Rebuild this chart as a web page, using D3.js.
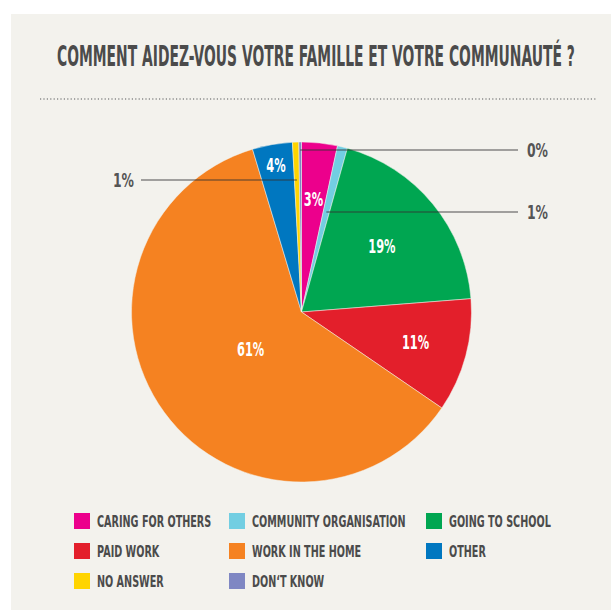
<!DOCTYPE html>
<html>
<head>
<meta charset="utf-8">
<script src="https://cdn.jsdelivr.net/npm/d3@7"></script>
<style>
  body { margin: 0; background: #fff; }
  svg { display: block; }
</style>
</head>
<body>
<script>
// data (percent of answers)
const title = "COMMENT AIDEZ-VOUS VOTRE FAMILLE ET VOTRE COMMUNAUTÉ ?";
const categories = ["CARING FOR OTHERS", "COMMUNITY ORGANISATION", "GOING TO SCHOOL",
                    "PAID WORK", "WORK IN THE HOME", "OTHER", "NO ANSWER", "DON\u2018T KNOW"];
const values = [3.4, 0.95, 19.4, 10.8, 60.8, 3.8, 0.6, 0.25];
const colors = ["#ec008c", "#72cee2", "#00a651", "#e31f2b", "#f58221", "#0077c0", "#ffd400", "#7f87c3"];

// how each slice gets its label: radius for an inside label, or a leader line at a given y
const labelLayout = [
    { inside: 113 },
    { y: -100, side: "right" },
    { inside: 104 },
    { inside: 118 },
    { inside: 63 },
    { inside: 149 },
    { y: -132, side: "left" },
    { y: -162, side: "right" }
];

const W = 611, H = 610;
const cx = 301.5, cy = 312, R = 170;
const font = "'DejaVu Sans', 'Liberation Sans', sans-serif";
const textCol = "#4b4b4b";

const svg = d3.select("body").append("svg").attr("width", W).attr("height", H);

// place a text at (x, y) and squeeze it horizontally by k (condensed look)
function place(sel, fx, fy, k) {
    return sel.attr("x", 0).attr("y", 0)
        .attr("transform", (d, i) => `translate(${fx(d, i)},${fy(d, i)}) scale(${k},1)`);
}

svg.append("rect").attr("x", 11).attr("y", 14).attr("width", W - 11).attr("height", H - 14)
    .attr("fill", "#f3f2ed");

const t = svg.append("text")
    .attr("font-family", font).attr("font-weight", "bold").attr("font-size", 28)
    .attr("fill", textCol)
    .text(title);
const tk = 518 / t.node().getComputedTextLength();
t.attr("transform", `translate(57,66) scale(${tk},1)`);

svg.append("line").attr("x1", 40).attr("x2", 597).attr("y1", 99).attr("y2", 99)
    .attr("stroke", "#8a8a8a").attr("stroke-width", 1.3).attr("stroke-dasharray", "1.2,2.2");

// pie
const pie = d3.pie().sort(null).value(d => d)(values);
const arc = d3.arc().innerRadius(0).outerRadius(R);
const g = svg.append("g").attr("transform", `translate(${cx},${cy})`);

g.selectAll("path.slice").data(pie).join("path")
    .attr("class", "slice")
    .attr("d", arc)
    .attr("fill", (d, i) => colors[i])
    .attr("stroke", "#f3f2ed").attr("stroke-width", 0.5);

const mid = d => (d.startAngle + d.endAngle) / 2;
const pct = v => Math.round(v) + "%";

// inside labels
const inside = pie.filter((d, i) => labelLayout[i].inside);
place(g.selectAll("text.in").data(inside).join("text")
    .attr("class", "in")
    .attr("dy", "0.36em")
    .attr("text-anchor", "middle")
    .attr("font-family", font).attr("font-weight", "bold").attr("font-size", 19)
    .attr("fill", "#fff")
    .text(d => pct(d.data)),
    d => Math.sin(mid(d)) * labelLayout[d.index].inside,
    d => -Math.cos(mid(d)) * labelLayout[d.index].inside, 0.6);

// leader lines for the thin slices
const outside = pie.filter((d, i) => labelLayout[i].y !== undefined);
const startX = d => Math.tan(mid(d)) * -labelLayout[d.index].y;
const endX = d => labelLayout[d.index].side === "right" ? 518 - cx : 141 - cx;

g.selectAll("line.lead").data(outside).join("line")
    .attr("class", "lead")
    .attr("x1", startX).attr("x2", endX)
    .attr("y1", d => labelLayout[d.index].y).attr("y2", d => labelLayout[d.index].y)
    .attr("stroke", "#333").attr("stroke-width", 1.1).attr("stroke-opacity", 0.85);

place(g.selectAll("text.out").data(outside).join("text")
    .attr("class", "out")
    .attr("dy", "0.36em")
    .attr("text-anchor", d => labelLayout[d.index].side === "right" ? "start" : "end")
    .attr("font-family", font).attr("font-weight", "bold").attr("font-size", 20)
    .attr("fill", "#555")
    .text(d => pct(d.data)),
    d => labelLayout[d.index].side === "right" ? endX(d) + 9 : endX(d) - 7,
    d => labelLayout[d.index].y, 0.62);

// legend, three columns
const colX = [74, 229, 426];
const items = svg.append("g").selectAll("g.item").data(categories).join("g")
    .attr("class", "item")
    .attr("transform", (d, i) => `translate(${colX[i % 3]},${513 + Math.floor(i / 3) * 30})`);

items.append("rect").attr("width", 16).attr("height", 16)
    .attr("fill", (d, i) => colors[i]);

place(items.append("text")
    .attr("font-family", font).attr("font-weight", "bold").attr("font-size", 16.5)
    .attr("fill", textCol)
    .text(d => d),
    () => 23, () => 14, 0.585);
</script>
</body>
</html>
